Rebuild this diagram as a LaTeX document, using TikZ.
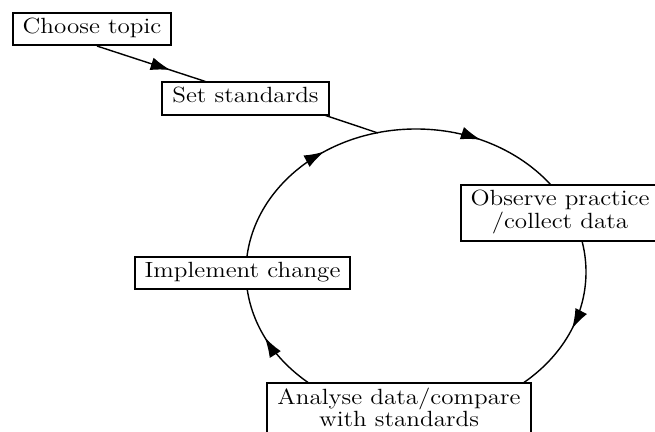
\documentclass[tikz,border=0pt]{standalone}
\usepackage{graphicx}
\usetikzlibrary{arrows.meta,decorations.markings}
\newcommand{\widetext}[1]{\scalebox{1.14}[1]{\begin{tabular}{@{}c@{}}#1\end{tabular}}}

\begin{document}
\begin{tikzpicture}[x=0.5pt,y=-0.5pt,
  stage/.style={draw,fill=white,line width=1pt,inner xsep=5pt,inner ysep=2.5pt,
    font=\fontsize{11}{11}\selectfont},
  link/.style={line width=0.7pt},
  midtips/.style={postaction={decorate},decoration={markings,
    mark=at position #1 with {\arrow{Latex[length=10pt,width=6.5pt]}}}}]
  \useasboundingbox (0,0) rectangle (655,432);
  % the audit cycle
  \draw[link,postaction={decorate},decoration={markings,
    mark=at position 0.060 with {\arrow{Latex[length=10pt,width=6.5pt]}},
    mark=at position 0.430 with {\arrow{Latex[length=10pt,width=6.5pt]}},
    mark=at position 0.653 with {\arrow{Latex[length=10pt,width=6.5pt]}},
    mark=at position 0.817 with {\arrow{Latex[length=10pt,width=6.5pt]}}}]
    (416,272) ellipse [x radius=170, y radius=143];
  \coordinate (entry) at (378,133);
  % stages
  \node[stage] (choose) at (92,29) {\widetext{Choose topic}};
  \node[stage] (set) at (245.5,98.5) {\widetext{Set standards}};
  \node[stage] (observe) at (560,213) {\widetext{Observe practice\\/collect data}};
  \node[stage] (analyse) at (399,411) {\widetext{Analyse data/compare\\with standards}};
  \node[stage] (implement) at (242.5,273.5) {\widetext{Implement change}};
  % way into the cycle
  \draw[link,midtips=0.68] ([xshift=2.5pt]choose.south) -- (set.157);
  \draw[link] (set.-12) -- (entry);
\end{tikzpicture}
\end{document}
